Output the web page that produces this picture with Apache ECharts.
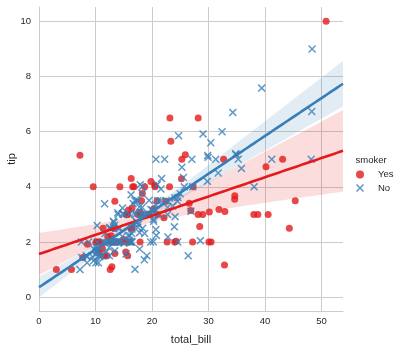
<!DOCTYPE html>
<html><head><meta charset="utf-8">
<script src="https://cdn.jsdelivr.net/npm/echarts@6/dist/echarts.min.js"></script>
<style>html,body{margin:0;padding:0;background:#fff}#c{width:403px;height:348px}</style>
</head><body><div id="c"></div>
<script>
// ---- data (smoker = Yes) ----
const yesBill = [38.01,11.24,20.29,13.81,11.02,18.29,3.07,15.01,26.86,25.28,
  17.92,19.44,32.68,28.97,5.75,16.32,40.17,27.28,12.03,21.01,
  11.35,15.38,44.30,22.42,15.36,20.49,25.21,14.31,16.00,17.51,
  10.59,10.63,50.81,15.81,7.25,31.85,16.82,32.90,17.89,14.48,
  9.60,34.63,34.65,23.33,45.35,23.17,40.55,20.90,30.46,18.15,
  23.10,15.69,19.81,28.44,15.48,16.58,10.34,43.11,13.00,13.51,
  18.71,12.74,13.00,16.40,20.53,16.47,26.59,38.73,24.27,12.76,
  30.06,25.89,13.27,28.17,12.90,28.15,11.59,7.74,30.14,12.16,
  13.42,8.58,13.42,16.27,10.09,22.12,24.01,15.69,15.53,12.60,
  32.83,27.18,22.67];
const yesTip = [3.00,1.76,3.21,2.00,1.98,3.76,1.00,2.09,3.14,5.00,
  3.08,3.00,5.00,3.00,1.00,4.30,4.73,4.00,1.50,3.00,
  2.50,3.00,2.50,3.48,1.64,4.06,4.29,4.00,2.00,3.00,
  1.61,2.00,10.00,3.16,5.15,3.18,4.00,3.11,2.00,2.00,
  4.00,3.55,3.68,5.65,3.50,6.50,3.00,3.50,2.00,3.50,
  4.00,1.50,4.19,2.56,2.02,4.00,2.00,5.00,2.00,2.00,
  4.00,2.01,2.00,2.50,4.00,3.23,3.41,3.00,2.03,2.23,
  2.00,5.16,2.50,6.50,1.10,3.00,1.50,1.44,3.09,2.20,
  3.48,1.92,1.58,2.50,2.00,2.88,2.00,3.00,3.00,1.00,
  1.17,2.00,2.00];
// ---- data (smoker = No) ----
const noBill = [16.99,10.34,21.01,23.68,24.59,25.29,8.77,26.88,15.04,14.78,
  10.27,35.26,15.42,18.43,14.83,21.58,10.33,16.29,16.97,20.65,
  17.92,20.29,15.77,39.42,19.82,17.81,13.37,12.69,21.70,19.65,
  9.55,18.35,15.06,20.69,17.78,24.06,16.31,16.93,18.69,31.27,
  16.04,17.46,13.94,9.68,30.40,18.29,22.23,32.40,28.55,18.04,
  12.54,10.29,34.81,9.94,25.56,19.49,26.41,48.27,17.59,20.08,
  16.45,20.23,12.02,17.07,14.73,10.51,27.20,22.76,17.29,16.66,
  10.07,15.98,34.83,13.03,18.28,24.71,21.16,22.49,22.75,12.46,
  20.92,18.24,14.00,7.25,38.07,23.95,25.71,17.31,29.93,10.65,
  12.43,24.08,11.69,13.42,14.26,15.95,12.48,29.80,8.52,14.52,
  11.38,22.82,19.08,20.27,11.17,12.26,18.26,8.51,10.33,14.15,
  13.16,17.47,34.30,41.19,27.05,16.43,8.35,18.64,11.87,9.78,
  7.51,14.07,13.13,17.26,24.55,19.77,29.85,48.17,25.00,13.39,
  16.49,21.50,12.66,16.21,13.81,24.52,20.76,31.71,20.69,7.56,
  48.33,15.98,20.45,13.28,11.61,10.77,10.07,35.83,29.03,17.82,
  18.78];
const noTip = [1.01,1.66,3.50,3.31,3.61,4.71,2.00,3.12,1.96,3.23,
  1.71,5.00,1.57,3.00,3.02,3.92,1.67,3.71,3.50,3.35,
  4.08,2.75,2.23,7.58,3.18,2.34,2.00,2.00,4.30,3.00,
  1.45,2.50,3.00,2.45,3.27,3.60,2.00,3.07,2.31,5.00,
  2.24,2.54,3.06,1.32,5.60,3.00,5.00,6.00,2.05,3.00,
  2.50,2.60,5.20,1.56,4.34,3.51,1.50,6.73,2.64,3.15,
  2.47,2.01,1.97,3.00,2.20,1.25,4.00,3.00,2.71,3.40,
  1.83,2.03,5.17,2.00,4.00,5.85,3.00,3.50,3.25,1.50,
  4.08,3.76,3.00,1.00,4.00,2.55,4.00,3.50,5.07,1.50,
  1.80,2.92,2.31,1.68,2.50,2.00,2.52,4.20,1.48,2.00,
  2.00,2.18,1.50,2.83,1.50,2.00,3.25,1.25,2.00,2.00,
  2.75,3.50,6.70,5.00,5.00,2.30,1.50,1.36,1.63,1.73,
  2.00,2.50,2.00,2.74,2.00,2.00,5.14,5.00,3.75,2.61,
  2.00,3.50,2.50,2.00,2.00,3.48,2.24,4.50,5.00,1.44,
  9.00,3.00,3.00,2.72,3.39,1.47,1.25,4.67,5.92,1.75,
  3.00];
const hueLevels = ['Yes', 'No'];
const legendTitle = 'smoker';
const xName = 'total_bill';
const yName = 'tip';
const xTicks = [0, 10, 20, 30, 40, 50];
const yTicks = [0, 2, 4, 6, 8, 10];

// ---- layout / style ----
const X_MIN = 0, X_MAX = 53.8, Y_MIN = -0.5, Y_MAX = 10.52;
const RED = '#e41a1c', BLUE = '#377eb8';
const TXT = '#262626', GRID = '#cccccc';
const FONT = '"Liberation Sans", Arial, sans-serif';
const X_PATH = 'path://M0,1.3 L1.3,0 L5,3.7 L8.7,0 L10,1.3 L6.3,5 L10,8.7 L8.7,10 L5,6.3 L1.3,10 L0,8.7 L3.7,5 Z';

// OLS fit with robust (sandwich) confidence band, evaluated across the axis range
function fit(xs, ys) {
  const n = xs.length;
  let sx = 0, sy = 0, sxx = 0, sxy = 0;
  for (let i = 0; i < n; i++) { sx += xs[i]; sy += ys[i]; sxx += xs[i]*xs[i]; sxy += xs[i]*ys[i]; }
  const det = n*sxx - sx*sx;
  const slope = (n*sxy - sx*sy) / det;
  const icpt = (sy - slope*sx) / n;
  const ai = [[sxx/det, -sx/det], [-sx/det, n/det]];
  let b00 = 0, b01 = 0, b11 = 0;
  for (let i = 0; i < n; i++) {
    const e = ys[i] - (icpt + slope*xs[i]); const e2 = e*e;
    b00 += e2; b01 += e2*xs[i]; b11 += e2*xs[i]*xs[i];
  }
  const c = n/(n-2);
  const B = [[b00*c, b01*c], [b01*c, b11*c]];
  const M = [[ai[0][0]*B[0][0]+ai[0][1]*B[1][0], ai[0][0]*B[0][1]+ai[0][1]*B[1][1]],
             [ai[1][0]*B[0][0]+ai[1][1]*B[1][0], ai[1][0]*B[0][1]+ai[1][1]*B[1][1]]];
  const V = [[M[0][0]*ai[0][0]+M[0][1]*ai[1][0], M[0][0]*ai[0][1]+M[0][1]*ai[1][1]],
             [M[1][0]*ai[0][0]+M[1][1]*ai[1][0], M[1][0]*ai[0][1]+M[1][1]*ai[1][1]]];
  const pts = [];
  for (let k = 0; k < 100; k++) {
    const x = X_MIN + (X_MAX - X_MIN)*k/99;
    const y = icpt + slope*x;
    const se = Math.sqrt(V[0][0] + 2*x*V[0][1] + x*x*V[1][1]);
    pts.push([x, y, y - 1.96*se, y + 1.96*se]);
  }
  return pts;
}

function bandSeries(pts, color) {
  return {
    type: 'custom', silent: true, clip: true,
    data: pts,
    encode: { x: 0, y: [2, 3] },
    renderItem: function (params, api) {
      if (params.dataIndex !== 0) return null;
      const upper = pts.map(p => api.coord([p[0], p[3]]));
      const lower = pts.map(p => api.coord([p[0], p[2]])).reverse();
      return { type: 'polygon', shape: { points: upper.concat(lower) },
               style: { fill: color, opacity: 0.15 } };
    }
  };
}
function lineSeries(name, pts, color) {
  return { type: 'line', name: name, silent: true, showSymbol: false, symbol: 'none',
           data: pts.map(p => [p[0], p[1]]), lineStyle: { width: 2.6, color: color }, clip: true };
}
function scatterSeries(name, xs, ys, color, symbol, size) {
  return { type: 'scatter', name: name, symbol: symbol, symbolSize: size,
           data: xs.map((x, i) => [x, ys[i]]),
           itemStyle: { color: color, opacity: 0.8 } };
}

const yesFit = fit(yesBill, yesTip);
const noFit = fit(noBill, noTip);

const chart = echarts.init(document.getElementById('c'), null, { renderer: 'canvas' });
chart.setOption({
  animation: false,
  backgroundColor: '#fff',
  textStyle: { fontFamily: FONT },
  grid: { left: 39, top: 7, width: 304, height: 304, containLabel: false, outerBoundsMode: 'none' },
  xAxis: {
    type: 'value', min: X_MIN, max: X_MAX,
    name: xName, nameLocation: 'middle', nameGap: 23,
    nameTextStyle: { color: TXT, fontSize: 11, fontFamily: FONT },
    axisLine: { onZero: false, lineStyle: { color: GRID, width: 1 } },
    axisTick: { show: false, customValues: xTicks },
    axisLabel: { customValues: xTicks, color: TXT, fontSize: 9.5, margin: 5, fontFamily: FONT },
    splitLine: { show: true, lineStyle: { color: GRID, width: 1 } }
  },
  yAxis: {
    type: 'value', min: Y_MIN, max: Y_MAX,
    name: yName, nameLocation: 'middle', nameGap: 22, nameMoveOverlap: false,
    nameTextStyle: { color: TXT, fontSize: 11, fontFamily: FONT },
    axisLine: { show: true, onZero: false, lineStyle: { color: GRID, width: 1 } },
    axisTick: { show: false, customValues: yTicks },
    axisLabel: { customValues: yTicks, color: TXT, fontSize: 9.5, margin: 8, fontFamily: FONT },
    splitLine: { show: true, lineStyle: { color: GRID, width: 1 } }
  },
  legend: {
    orient: 'vertical', left: 356, top: 168, padding: 0, itemWidth: 8, itemHeight: 8, itemGap: 0.5,
    data: [{ name: hueLevels[0], icon: 'circle' }, { name: hueLevels[1], icon: X_PATH }],
    textStyle: { color: TXT, fontSize: 9.5, fontFamily: FONT, lineHeight: 13, padding: [0, 0, 0, 9] },
    selectedMode: false
  },
  graphic: [{
    type: 'text', left: 355.5, top: 155,
    style: { text: legendTitle, fill: TXT, fontSize: 9.5, fontFamily: FONT }
  }],
  series: [
    scatterSeries(hueLevels[0], yesBill, yesTip, RED, 'circle', 7),
    bandSeries(yesFit, RED),
    lineSeries('Yes fit', yesFit, RED),
    scatterSeries(hueLevels[1], noBill, noTip, BLUE, X_PATH, 8),
    bandSeries(noFit, BLUE),
    lineSeries('No fit', noFit, BLUE)
  ]
});
</script></body></html>
